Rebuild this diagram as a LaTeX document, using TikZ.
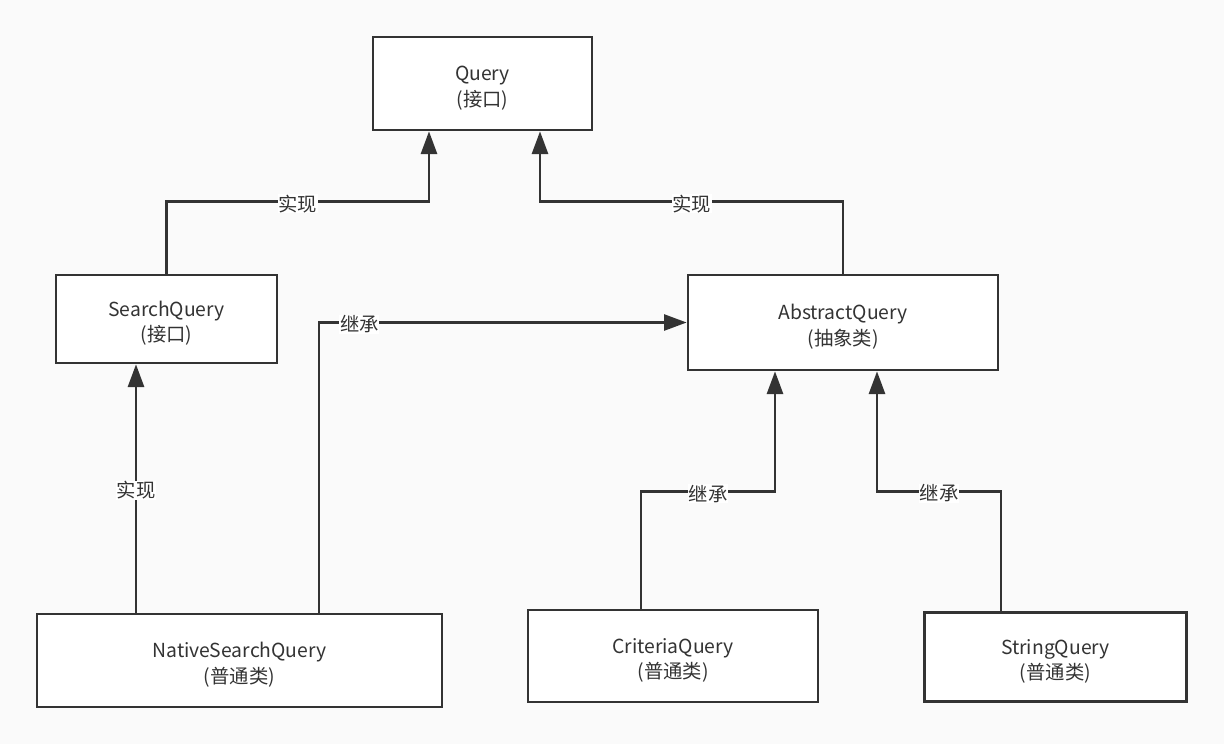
\documentclass[tikz,border=0pt]{standalone}
\usepackage{fontspec}
\setmainfont{Noto Sans CJK SC}
\usepackage{xcolor}
\usetikzlibrary{calc, arrows.meta}

\definecolor{canvas}{HTML}{FAFAFA}
\definecolor{ink}{HTML}{333333}

\newcommand{\boxtop}{\rule{0pt}{18pt}}

\begin{document}
\begin{tikzpicture}[x=0.75pt, y=-0.75pt,
		box/.style = {draw = ink, line width = 2pt, fill = white, align = center,
			inner sep = 0pt, text = ink, font = \fontsize{14.5}{19}\selectfont},
		link/.style = {draw = ink, line width = 2pt, -{Triangle[length=17pt, width=12pt]}},
		lbl/.style = {fill = white, inner sep = 0.5pt, text = ink, yshift = -1.5pt,
			font = \fontsize{14.5}{16}\selectfont}]

			\fill [canvas] (0,0) rectangle (1224,744);
			\useasboundingbox (0,0) rectangle (1224,744);

			\begin{scope}
				\node [box, minimum width = 164.25pt, minimum height = 69.75pt] (query) at (482.5,83.5) {\boxtop Query\\(接口)};
				\node [box, minimum width = 165.75pt, minimum height = 66pt] (searchQuery) at (166.5,319) {\boxtop SearchQuery\\(接口)};
				\node [box, minimum width = 232.5pt, minimum height = 71.25pt] (abstractQuery) at (843,322.5) {\boxtop AbstractQuery\\(抽象类)};
				\node [box, minimum width = 303.75pt, minimum height = 69.75pt] (nativeQuery) at (239.5,660.5) {\boxtop NativeSearchQuery\\(普通类)};
				\node [box, minimum width = 217.5pt, minimum height = 69pt] (criteriaQuery) at (673,656) {\boxtop CriteriaQuery\\(普通类)};
				\node [box, minimum width = 196.5pt, minimum height = 66.75pt] (stringQuery) at (1055.5,657) {\boxtop StringQuery\\(普通类)};
			\end{scope}

			% 实现
			\begin{scope}
				\draw [link] (searchQuery.north) -- ++(0,-72) -| node [lbl, pos = 0.25] {实现} ($(query.south)+(-53.5,0)$);
				\draw [link] (abstractQuery.north) -- ++(0,-72) -| node [lbl, pos = 0.25] {实现} ($(query.south)+(57.5,0)$);
				\draw [link] ($(nativeQuery.north)+(-103.5,0)$) -- node [lbl] {实现} ($(searchQuery.south)+(-30.5,0)$);
			\end{scope}

			% 继承
			\begin{scope}
				\draw [link] ($(nativeQuery.north)+(79.5,0)$) |- node [lbl, pos = 0.555] {继承} (abstractQuery.west);
				\draw [link] ($(criteriaQuery.north)+(-32,0)$) -- ++(0,-117) -| node [lbl, pos = 0.25] {继承} ($(abstractQuery.south)+(-68,0)$);
				\draw [link] ($(stringQuery.north)+(-54.5,0)$) -- ++(0,-120) -| node [lbl, pos = 0.25] {继承} ($(abstractQuery.south)+(34,0)$);
			\end{scope}
		\end{tikzpicture}
\end{document}
